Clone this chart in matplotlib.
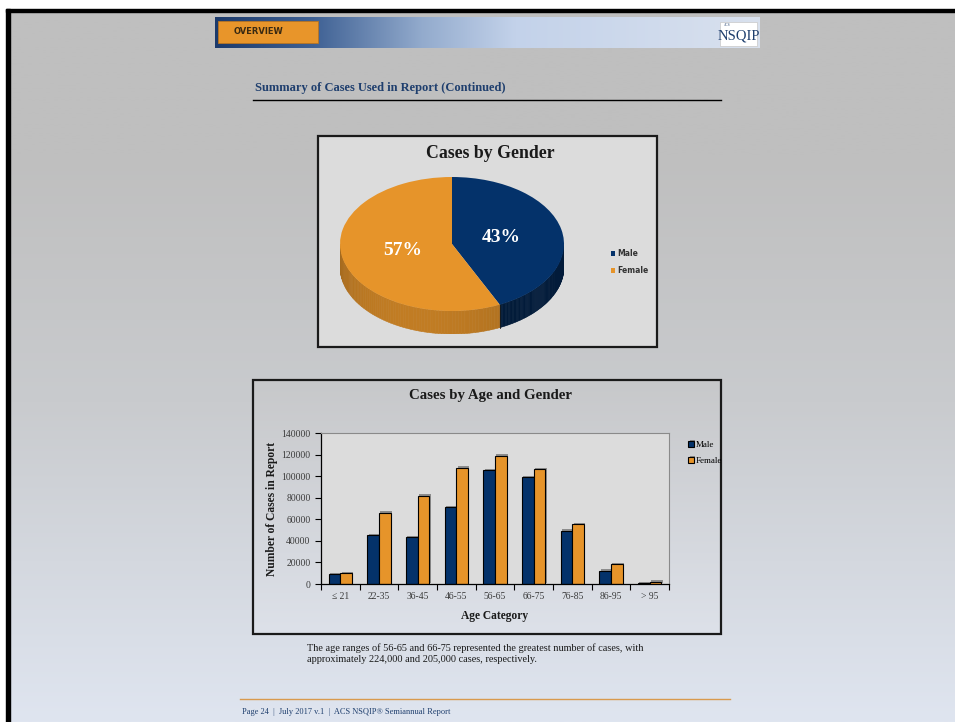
import numpy as np
import matplotlib.pyplot as plt
import matplotlib.patheffects as pe
from matplotlib.patches import Rectangle, Polygon
from matplotlib.colors import LinearSegmentedColormap, to_rgb

W, H = 955, 722

# pie data
genders = ['Male', 'Female']
gender_share = [43, 57]

# bar data
age_groups = ['\u2264 21', '22-35', '36-45', '46-55', '56-65', '66-75', '76-85', '86-95', '> 95']
male_cases = [9000, 45500, 43500, 71000, 105500, 99000, 49500, 12500, 1000]
female_cases = [10000, 66000, 82000, 108000, 119000, 106500, 55500, 18500, 2000]
y_ticks = [0, 20000, 40000, 60000, 80000, 100000, 120000, 140000]

NAVY = '#04326a'
ORANGE = '#e6942a'
TEXT_BLUE = '#1f3f6e'
SERIF = 'Liberation Serif'

fig = plt.figure(figsize=(W / 100, H / 100), dpi=100)
bg = fig.add_axes([0, 0, 1, 1])
bg.axis('off')


def px_axes(x0, y0, x1, y1):
    return fig.add_axes([x0 / W, 1 - y1 / H, (x1 - x0) / W, (y1 - y0) / H])


def gradient(x0, x1, y0, y1, stops, horizontal=False):
    cmap = LinearSegmentedColormap.from_list('g', stops)
    g = np.linspace(0, 1, 256)
    arr = g.reshape(1, -1) if horizontal else g.reshape(-1, 1)
    bg.imshow(arr, cmap=cmap, extent=(x0, x1, y1, y0), aspect='auto',
              interpolation='bilinear', origin='upper')


# page background and frame
gradient(10, W, 12, H, [(0, '#bfbfbf'), (0.2, '#bfbfbf'), (0.55, '#c9cbce'), (1, '#dfe5f0')])
bg.add_patch(Rectangle((6, 9), W - 6, 3, color='black'))
bg.add_patch(Rectangle((6, 9), 4, H - 9, color='black'))

# header banner
gradient(215, 760, 17, 48, [(0, '#1c3a6b'), (0.18, '#3f6194'), (0.38, '#93abcd'),
                            (0.55, '#c3d2ea'), (1, '#d9e1ee')], horizontal=True)
bg.add_patch(Rectangle((218, 21), 100, 22, fc='#e8952a', ec='#b87420', lw=0.6))
bg.text(234, 32, 'OVERVIEW', fontsize=6, fontweight='bold', color='#3a2a12',
        ha='left', va='center', family='DejaVu Sans')
bg.add_patch(Rectangle((720, 22), 37, 24, fc='white', ec='#c8c8c8', lw=0.5))
bg.text(739, 36, 'NSQIP', fontsize=10.5, color=TEXT_BLUE, ha='center', va='center', family=SERIF)
bg.text(724, 25, 'ACS', fontsize=2.5, color=TEXT_BLUE, ha='left', va='center', family=SERIF)

bg.text(255, 88, 'Summary of Cases Used in Report (Continued)', fontsize=9, fontweight='bold',
        color=TEXT_BLUE, ha='left', va='center', family=SERIF)
bg.plot([253, 721], [100, 100], color='black', lw=1)

# ---- pie chart panel ----
bg.add_patch(Rectangle((318, 136), 339, 211, fc='#dcdcdc', ec='#1a1a1a', lw=1.6))
bg.text(490, 153, 'Cases by Gender', fontsize=12.8, fontweight='bold', color='#1a1a1a',
        ha='center', va='center', family=SERIF)

pax = px_axes(340, 177, 564, 334)
depth = 23 / 67
fracs = np.array(gender_share) / sum(gender_share)
edges = 90 - 360 * np.concatenate([[0], np.cumsum(fracs)])
base_cols = [NAVY, ORANGE]

# side walls of the 3d pie, only the front (lower) half is visible
for i in range(len(fracs)):
    start, end = edges[i], edges[i + 1]
    for shift in (-360, 0, 360):
        a, b = max(end + shift, -180), min(start + shift, 0)
        if a >= b:
            continue
        ts = np.linspace(a, b, 80)
        for t1, t2 in zip(ts[:-1], ts[1:]):
            tm = np.radians((t1 + t2) / 2)
            f = 0.62 + 0.22 * np.cos(tm + np.radians(110))
            if i == 0:
                f = 0.45 + 0.1 * np.cos(tm + np.radians(30))
            col = np.clip(np.array(to_rgb(base_cols[i])) * f, 0, 1)
            r1, r2 = np.radians(t1), np.radians(t2)
            pts = [(np.cos(r1), np.sin(r1)), (np.cos(r2), np.sin(r2)),
                   (np.cos(r2), np.sin(r2) - depth), (np.cos(r1), np.sin(r1) - depth)]
            pax.add_patch(Polygon(pts, fc=col, ec=col, lw=0.4, zorder=1))

seam = np.radians(edges[1])
pax.plot([np.cos(seam)] * 2, [np.sin(seam), np.sin(seam) - depth], color='#1a1a1a', lw=0.6, zorder=1.5)

wedges, _, autotexts = pax.pie(gender_share, colors=base_cols, startangle=90, counterclock=False,
                               autopct='%d%%', pctdistance=0.45,
                               wedgeprops={'linewidth': 0, 'zorder': 2})
for t in autotexts:
    t.set_color('white')
    t.set_fontsize(14)
    t.set_fontweight('bold')
    t.set_family(SERIF)
pax.set_aspect('auto')
pax.set_xlim(-1, 1)
pax.set_ylim(-1 - depth, 1)
pax.axis('off')
pax.legend(wedges, genders, loc='upper left', bbox_to_anchor=(604 / W, 1 - 242 / H),
           bbox_transform=fig.transFigure, frameon=False,
           prop={'family': 'DejaVu Sans', 'size': 5.5, 'weight': 'bold'},
           handlelength=0.6, handleheight=0.6, handletextpad=0.3, labelspacing=1.1,
           labelcolor='#333333')

# ---- bar chart panel ----
gradient(253, 721, 380, 634, [(0, '#c7c8ca'), (1, '#dde1e9')])
bg.add_patch(Rectangle((253, 380), 468, 254, fill=False, ec='#1a1a1a', lw=1.6))
bg.text(490, 396, 'Cases by Age and Gender', fontsize=10.7, fontweight='bold', color='#1a1a1a',
        ha='center', va='center', family=SERIF)

ax = px_axes(321, 433, 669, 584)
ax.set_facecolor('#dcdcdc')
x = np.arange(len(age_groups))
shadow = [pe.SimplePatchShadow(offset=(1, 1), shadow_rgbFace='#6a6a6a', alpha=0.7), pe.Normal()]
b1 = ax.bar(x - 0.3, male_cases, width=0.3, align='edge', color=NAVY, edgecolor='black', lw=0.8,
            label='Male', path_effects=shadow)
b2 = ax.bar(x, female_cases, width=0.3, align='edge', color=ORANGE, edgecolor='black', lw=0.8,
            label='Female', path_effects=shadow)

ax.set_xlim(-0.5, len(age_groups) - 0.5)
ax.set_ylim(0, 140000)
ax.set_yticks(y_ticks)
ax.set_yticklabels([str(v) for v in y_ticks])
ax.set_xticks(np.arange(-0.5, len(age_groups), 1))
ax.set_xticklabels([])
ax.set_xticks(x, minor=True)
ax.set_xticklabels(age_groups, minor=True)
ax.tick_params(axis='both', which='major', direction='out', length=4, width=0.8, color='black')
ax.tick_params(axis='x', which='minor', length=0, pad=6)
for lab in ax.get_yticklabels() + ax.get_xticklabels(minor=True):
    lab.set_family(SERIF)
    lab.set_fontsize(6.9)
    lab.set_color('#3a3a3a')
for s in ('top', 'right'):
    ax.spines[s].set_color('#8a8a8a')
    ax.spines[s].set_linewidth(0.8)
for s in ('left', 'bottom'):
    ax.spines[s].set_color('black')
    ax.spines[s].set_linewidth(0.9)

ax.set_ylabel('Number of Cases in Report', fontsize=8.3, fontweight='bold', family=SERIF, color='#1a1a1a')
ax.yaxis.label.set_va('center')
ax.yaxis.set_label_coords(-0.14, 0.5)
ax.set_xlabel('Age Category', fontsize=8.3, fontweight='bold', family=SERIF, color='#1a1a1a')
ax.xaxis.label.set_va('center')
ax.xaxis.set_label_coords(0.5, -(616 - 584) / 151)

ax.legend(handles=[b1, b2], loc='upper left', bbox_to_anchor=(680 / W, 1 - 433 / H),
          bbox_transform=fig.transFigure, frameon=False, prop={'family': SERIF, 'size': 6.5},
          handlelength=0.6, handleheight=0.6, handletextpad=0.2, labelspacing=0.9)

# caption and footer
bg.text(307, 648, 'The age ranges of 56-65 and 66-75 represented the greatest number of cases, with',
        fontsize=7.4, color='#1a1a1a', ha='left', va='center', family=SERIF)
bg.text(307, 660, 'approximately 224,000 and 205,000 cases, respectively.',
        fontsize=7.4, color='#1a1a1a', ha='left', va='center', family=SERIF)
bg.plot([240, 730], [699, 699], color='#d99a4e', lw=1)
bg.text(242, 712, 'Page 24  |  July 2017 v.1  |  ACS NSQIP\u00ae Semiannual Report',
        fontsize=6, color=TEXT_BLUE, ha='left', va='center', family=SERIF)

bg.set_xlim(0, W)
bg.set_ylim(H, 0)
fig.savefig('out.png', dpi=100, facecolor='white')
